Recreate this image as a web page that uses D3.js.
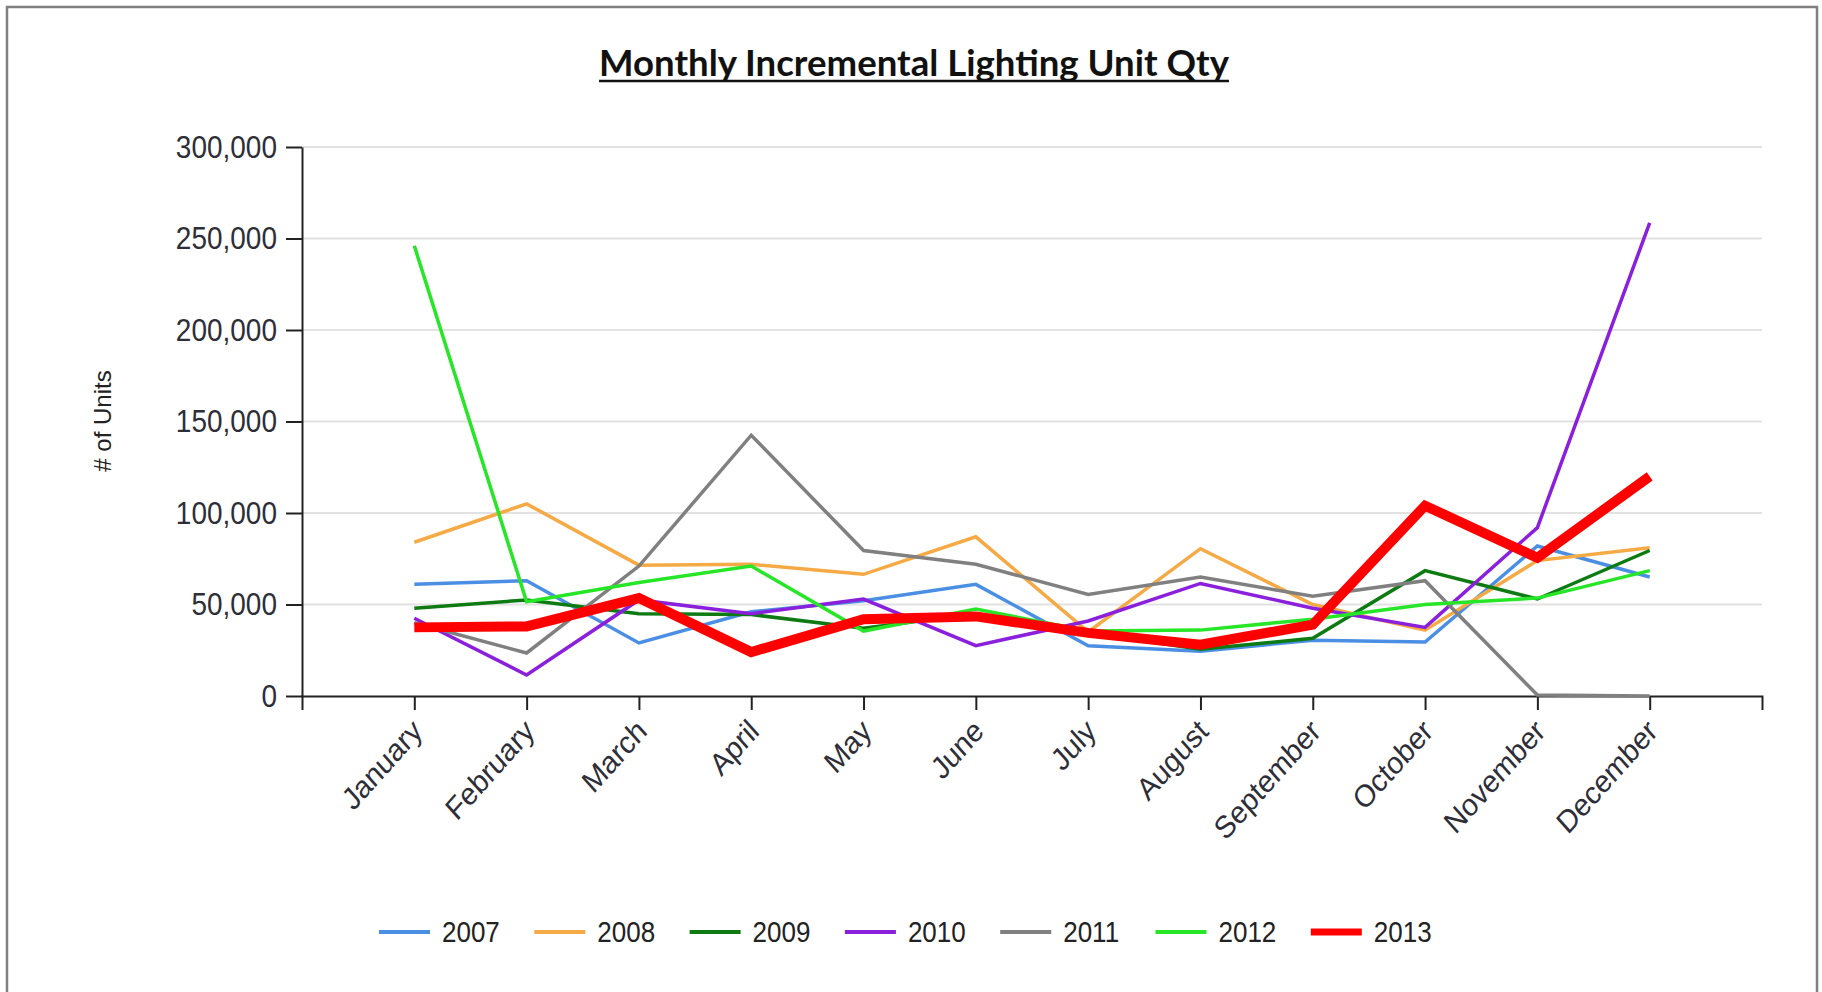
<!DOCTYPE html>
<meta charset='utf-8'>
<style>
body { margin: 0; background: #fff; }
svg { display: block; }
.tick text { font-family: 'Liberation Sans', Arial, sans-serif; fill: #2e2e38; }
.grid line { stroke: #e2e2e2; stroke-width: 2; }
.series { fill: none; }
</style>
<svg width='1822' height='992'></svg>
<script src='https://d3js.org/d3.v7.min.js'></script>
<script>

var months = ['January', 'February', 'March', 'April', 'May', 'June', 'July',
              'August', 'September', 'October', 'November', 'December'];
var years = ['2007', '2008', '2009', '2010', '2011', '2012', '2013'];
var colors = ['#4a8fe4', '#f5aa45', '#0d7a12', '#8a1fdc', '#808080', '#27e627', '#ff0000'];
var yTicks = [0, 50000, 100000, 150000, 200000, 250000, 300000];

var units2007 = [61000, 63000, 29000, 46000, 52000, 61000, 27500, 24500, 30500, 29500, 82000, 65000];
var units2008 = [84000, 105000, 71500, 72000, 66500, 87000, 35000, 80500, 50000, 36000, 74000, 81000];
var units2009 = [48000, 52500, 45000, 44500, 37000, 45000, 34500, 25500, 31500, 68500, 53000, 79500];
var units2010 = [42500, 11500, 52500, 45000, 53000, 27500, 41000, 61500, 48000, 37500, 92000, 258500];
var units2011 = [40000, 23500, 71000, 142500, 79500, 72000, 55500, 65000, 54500, 63000, 500, 0];
var units2012 = [246000, 51500, 62000, 71000, 35500, 47500, 35500, 36000, 42000, 50000, 53500, 68500];
var units2013 = [37500, 38000, 53500, 24000, 42000, 43500, 34500, 28000, 39000, 104000, 75500, 120000];

var allUnits = [units2007, units2008, units2009, units2010, units2011, units2012, units2013];

var svg = d3.select('svg'),
    plotLeft = 302, plotRight = 1762, plotTop = 147, plotBottom = 696;

// frame
svg.append('rect')
    .attr('x', 7).attr('y', 7)
    .attr('width', 1810).attr('height', 1000)
    .attr('fill', '#fff')
    .attr('stroke', '#808080')
    .attr('stroke-width', 2.5);

var x = d3.scalePoint().domain(months).range([plotLeft, plotRight]).padding(1);
var y = d3.scaleLinear().domain([0, 300000]).range([plotBottom, plotTop]);

// grid
svg.append('g').attr('class', 'grid')
    .selectAll('line')
    .data(yTicks.slice(1))
    .enter().append('line')
    .attr('x1', plotLeft).attr('x2', plotRight)
    .attr('y1', function(d) { return y(d); })
    .attr('y2', function(d) { return y(d); });

// axes
var yAxis = svg.append('g')
    .attr('transform', 'translate(' + plotLeft + ',0)')
    .call(d3.axisLeft(y).tickValues(yTicks).tickFormat(d3.format(',')).tickSize(16).tickSizeOuter(0).tickPadding(9));
yAxis.selectAll('text')
    .style('font-size', '28px')
    .attr('transform', 'scale(1,1.12)');

var xAxis = svg.append('g')
    .attr('transform', 'translate(0,' + plotBottom + ')')
    .call(d3.axisBottom(x).tickSize(14).tickSizeOuter(14));
xAxis.selectAll('text')
    .style('font-size', '28px')
    .attr('text-anchor', 'end')
    .attr('y', 0).attr('dy', 0)
    .attr('transform', 'translate(9,37) scale(1,1.12) rotate(-45)');

svg.selectAll('.domain, .tick line').attr('stroke', '#222').attr('stroke-width', 2);

// y title
svg.append('text')
    .attr('transform', 'translate(111,421) rotate(-90)')
    .attr('text-anchor', 'middle')
    .style('font-family', "'Liberation Sans', Arial, sans-serif")
    .style('font-size', '24px')
    .attr('fill', '#222')
    .text('# of Units');

// chart title
var title = svg.append('text')
    .attr('x', 914).attr('y', 76)
    .attr('text-anchor', 'middle')
    .style('font-family', 'Lato, sans-serif')
    .style('font-weight', 'bold')
    .style('font-size', '33px')
    .attr('fill', '#111')
    .text('Monthly Incremental Lighting Unit Qty');
var tw = title.node().getComputedTextLength();
title.style('font-size', (33 * 630 / tw) + 'px');
tw = title.node().getComputedTextLength();
svg.append('line')
    .attr('x1', 914 - tw / 2).attr('x2', 914 + tw / 2)
    .attr('y1', 81).attr('y2', 81)
    .attr('stroke', '#111').attr('stroke-width', 2.5);

// series
var line = d3.line()
    .x(function(d, i) { return x(months[i]); })
    .y(function(d) { return y(d); });

svg.append('g').selectAll('path')
    .data(allUnits)
    .enter().append('path')
    .attr('class', 'series')
    .attr('stroke', function(d, i) { return colors[i]; })
    .attr('stroke-width', function(d, i) { return i == 6 ? 10 : 3.5; })
    .attr('d', line);

// legend
var legend = svg.append('g').selectAll('g')
    .data(years)
    .enter().append('g')
    .attr('transform', function(d, i) { return 'translate(' + (379 + i * 155.3) + ',932)'; });
legend.append('line')
    .attr('x1', 0).attr('x2', 51)
    .attr('stroke', function(d, i) { return colors[i]; })
    .attr('stroke-width', function(d, i) { return i == 6 ? 7 : 4; });
legend.append('text')
    .attr('x', 63).attr('dy', '0.36em')
    .attr('transform', 'scale(1,1.1)')
    .style('font-family', "'Liberation Sans', Arial, sans-serif")
    .style('font-size', '26px')
    .attr('fill', '#222')
    .text(function(d) { return d; });

</script>
